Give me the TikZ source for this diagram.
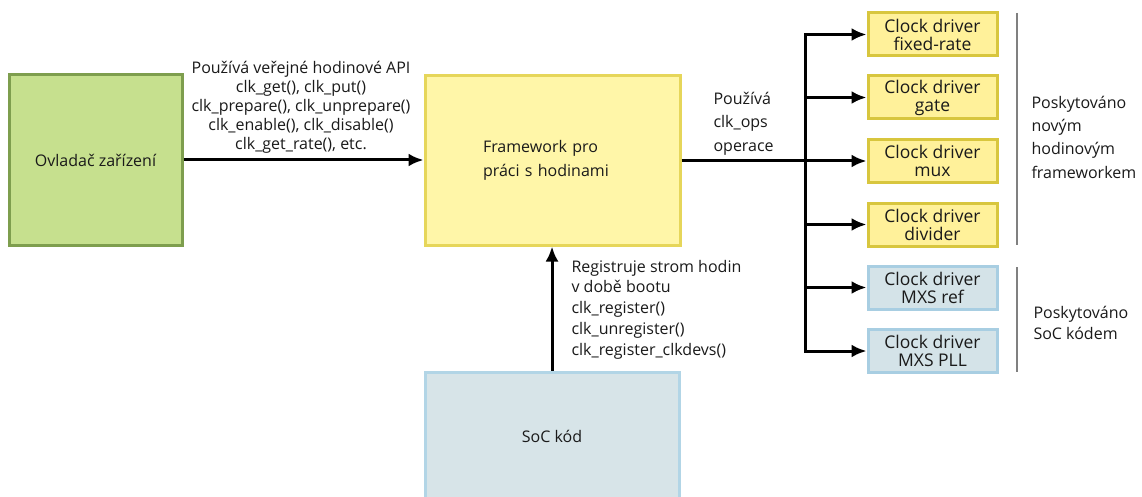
\documentclass[tikz,border=0pt]{standalone}
\usepackage{fontspec}
\setmainfont{Open Sans}
\usetikzlibrary{arrows.meta}
\definecolor{txt}{HTML}{1A1A1A}
\definecolor{devfill}{HTML}{C6E08E}
\definecolor{devline}{HTML}{7E9E4E}
\definecolor{fwfill}{HTML}{FFF6A8}
\definecolor{fwline}{HTML}{E6D65A}
\definecolor{clkfill}{HTML}{FFF19A}
\definecolor{clkline}{HTML}{D8C63E}
\definecolor{socfill}{HTML}{D7E4E8}
\definecolor{socline}{HTML}{B2D5E6}
\definecolor{mxsfill}{HTML}{D4E3E8}
\definecolor{mxsline}{HTML}{A8CEE2}
\definecolor{sepgray}{HTML}{808080}
\begin{document}
\begin{tikzpicture}[x=1pt,y=-1pt,
  every node/.style={text=txt, font=\fontsize{16}{19}\selectfont},
  box/.style={draw, line width=3pt, inner sep=0pt},
  drvbox/.style={box, draw=clkline, fill=clkfill, minimum width=129, minimum height=43, align=center, font=\fontsize{17.5}{18}\selectfont},
  mxsbox/.style={drvbox, draw=mxsline, fill=mxsfill},
  conn/.style={line width=3pt, -{Latex[length=15pt,width=13pt]}},
  sepline/.style={draw=sepgray, line width=2.5pt}]
\path[use as bounding box, fill=white] (0,0) rectangle (1142,497);
\node[box, draw=devline, fill=devfill, minimum width=173, minimum height=170] (dev) at (95.5,160) {Ovladač zařízení};
\node[box, draw=fwline, fill=fwfill, minimum width=255, minimum height=169, text width=139pt, align=left, font=\fontsize{16}{24}\selectfont] (fw) at (552.5,160.5) {Framework pro\\práci s hodinami};
\node[box, draw=socline, fill=socfill, minimum width=254, minimum height=128] (soc) at (552,436) {SoC kód};
\foreach \name/\y/\txt in {fixed/34.5/fixed-rate, gate/97.5/gate, mux/161/mux, divider/224.5/divider}
  \node[drvbox] (\name) at (932.5,\y) {Clock driver\\\txt};
\foreach \name/\y/\txt in {mxsref/287.5/MXS ref, mxspll/351/MXS PLL}
  \node[mxsbox] (\name) at (932.5,\y) {Clock driver\\\txt};
\draw[conn] (dev.east) -- (dev.east -| fw.west);
\draw[conn] (soc.north) -- (soc.north |- fw.south);
\draw[conn] (fw.east |- mux.west) -- (mux.west);
\coordinate (bus) at (805,0);
\draw[line width=3pt, line cap=rect] (bus |- fixed.west) -- (bus |- mxspll.west);
\foreach \name in {fixed,gate,divider,mxsref,mxspll}
  \draw[conn] (bus |- \name.west) -- (\name.west);
\node[align=center] (apilbl) at (301,107.5) {Používá veřejné hodinové API\\clk\_get(), clk\_put()\\clk\_prepare(), clk\_unprepare()\\clk\_enable(), clk\_disable()\\clk\_get\_rate(), etc.};
\node[align=left, anchor=west, font=\fontsize{16}{23.5}\selectfont] (opslbl) at (710,123.5) {Používá\\clk\_ops\\operace};
\node[align=left, anchor=west, font=\fontsize{16}{20.7}\selectfont] (reglbl) at (568,309.5) {Registruje strom hodin\\v době bootu\\clk\_register()\\clk\_unregister()\\clk\_register\_clkdevs()};
\node[align=left, anchor=west, font=\fontsize{16}{23.3}\selectfont] (newlbl) at (1028,137) {Poskytováno\\novým\\hodinovým\\frameworkem};
\node[align=left, anchor=west, font=\fontsize{16}{21}\selectfont] (soclbl) at (1030,322.5) {Poskytováno\\SoC kódem};
\draw[sepline] (1017,13) -- (1017,245);
\draw[sepline] (1017,267) -- (1017,372);
\end{tikzpicture}
\end{document}
